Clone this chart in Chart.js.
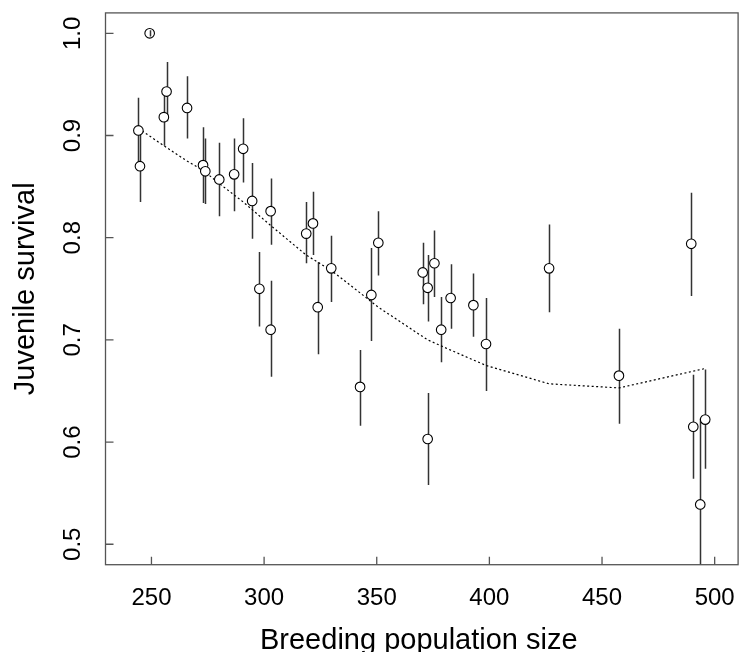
<!DOCTYPE html>
<html>
<head>
<meta charset="utf-8">
<title>Juvenile survival vs breeding population size</title>
<script src="https://cdn.jsdelivr.net/npm/chart.js@4"></script>
<style>
  html, body { margin: 0; padding: 0; background: #fff; overflow: hidden; }
  #wrap { position: absolute; left: 0; top: 0; width: 744px; height: 652px; }
</style>
</head>
<body>
<div id="wrap"><canvas id="chart" width="744" height="652"></canvas></div>
<script>
// breeding population size, survival estimate and interval ends
const popSize = [249.2, 244.2, 244.9, 256.7, 255.5, 265.8, 272.9, 273.9, 280.1, 286.7,
                 290.7, 294.7, 302.9, 318.7, 321.7, 297.9, 302.9, 323.8, 329.8, 350.7,
                 347.6, 342.6, 370.4, 372.6, 375.6, 378.6, 382.8, 372.6, 392.9, 398.5,
                 426.5, 457.5, 489.6, 490.5, 493.6, 495.8];
const survival = [1.000, 0.905, 0.870, 0.943, 0.918, 0.927, 0.871, 0.865, 0.857, 0.862,
                  0.887, 0.836, 0.826, 0.804, 0.814, 0.750, 0.710, 0.732, 0.770, 0.795,
                  0.744, 0.654, 0.766, 0.751, 0.775, 0.710, 0.741, 0.603, 0.734, 0.696,
                  0.770, 0.665, 0.794, 0.615, 0.539, 0.622];
const lower = [0.997, 0.873, 0.835, 0.914, 0.890, 0.897, 0.834, 0.833, 0.821, 0.826,
               0.854, 0.799, 0.793, 0.775, 0.783, 0.713, 0.664, 0.686, 0.737, 0.763,
               0.699, 0.616, 0.735, 0.718, 0.742, 0.678, 0.711, 0.558, 0.703, 0.650,
               0.727, 0.618, 0.743, 0.564, 0.455, 0.574];
const upper = [1.003, 0.937, 0.905, 0.972, 0.946, 0.958, 0.908, 0.897, 0.893, 0.897,
               0.917, 0.873, 0.858, 0.835, 0.845, 0.786, 0.758, 0.776, 0.802, 0.826,
               0.790, 0.690, 0.795, 0.783, 0.807, 0.742, 0.774, 0.648, 0.765, 0.741,
               0.813, 0.711, 0.844, 0.666, 0.623, 0.671];

// smoothed fit (dotted line)
const fitX = [244.2, 255.5, 265.8, 272.9, 280.1, 290.7, 302.9, 318.7, 329.8, 342.6,
              350.7, 372.6, 382.8, 398.5, 426.5, 457.5, 495.8];
const fitY = [0.907, 0.890, 0.875, 0.866, 0.853, 0.835, 0.812, 0.783, 0.768, 0.746,
              0.732, 0.700, 0.690, 0.675, 0.657, 0.653, 0.672];

const xTicks = [250, 300, 350, 400, 450, 500];
const yTicks = [0.5, 0.6, 0.7, 0.8, 0.9, 1.0];

const FONT = '"Liberation Sans", Arial, Helvetica, sans-serif';
const R = 4.8;

function drawBars(c, onlySmall) {
  const { ctx, chartArea: a, scales: { x, y } } = c;
  ctx.save();
  ctx.beginPath();
  ctx.rect(a.left, a.top, a.right - a.left, a.bottom - a.top);
  ctx.clip();
  ctx.strokeStyle = "#333";
  ctx.lineWidth = 1.5;
  popSize.forEach((p, i) => {
    const y0 = y.getPixelForValue(lower[i]);
    const y1 = y.getPixelForValue(upper[i]);
    const small = Math.abs(y0 - y1) < 2 * R;
    if (onlySmall && !small) return;
    const px = Math.round(x.getPixelForValue(p)) + 0.5;
    ctx.beginPath();
    ctx.moveTo(px, y0);
    ctx.lineTo(px, y1);
    ctx.stroke();
  });
  ctx.restore();
}

const rAxes = {
  id: "rAxes",
  beforeDatasetsDraw(c) { drawBars(c, false); },
  afterDatasetsDraw(c) { drawBars(c, true); },
  afterDraw(c) {
    const { ctx, chartArea: a, scales: { x, y } } = c;
    ctx.save();
    ctx.strokeStyle = "#555";
    ctx.lineWidth = 1.3;
    ctx.strokeRect(a.left, a.top, a.right - a.left, a.bottom - a.top);

    // inward ticks
    ctx.beginPath();
    xTicks.forEach(v => {
      const px = x.getPixelForValue(v);
      ctx.moveTo(px, a.bottom);
      ctx.lineTo(px, a.bottom - 8);
    });
    yTicks.forEach(v => {
      const py = y.getPixelForValue(v);
      ctx.moveTo(a.left, py);
      ctx.lineTo(a.left + 8, py);
    });
    ctx.stroke();

    ctx.fillStyle = "#000";
    ctx.font = "24px " + FONT;
    ctx.textAlign = "center";
    ctx.textBaseline = "alphabetic";
    xTicks.forEach(v => ctx.fillText(String(v), x.getPixelForValue(v), 605));
    yTicks.forEach(v => {
      ctx.save();
      ctx.translate(80, y.getPixelForValue(v));
      ctx.rotate(-Math.PI / 2);
      ctx.fillText(v.toFixed(1), 0, 0);
      ctx.restore();
    });

    ctx.font = "29px " + FONT;
    ctx.fillText("Breeding population size", (a.left + a.right) / 2 - 3, 648.5);
    ctx.save();
    ctx.translate(34, (a.top + a.bottom) / 2);
    ctx.rotate(-Math.PI / 2);
    ctx.fillText("Juvenile survival", 0, 0);
    ctx.restore();
    ctx.restore();
  }
};

new Chart(document.getElementById("chart"), {
  type: "scatter",
  data: {
    datasets: [
      {
        type: "line",
        data: fitX.map((v, i) => ({ x: v, y: fitY[i] })),
        borderColor: "#000",
        borderWidth: 1.2,
        borderDash: [2, 2.5],
        pointRadius: 0,
        tension: 0,
        fill: false,
        order: 2
      },
      {
        data: popSize.map((v, i) => ({ x: v, y: survival[i] })),
        pointRadius: R,
        pointBorderWidth: 1.1,
        borderColor: "#000",
        backgroundColor: "#fff",
        order: 1
      }
    ]
  },
  options: {
    responsive: false,
    animation: false,
    layout: { padding: { left: 105.5, top: 12.9, right: 3.3, bottom: 87.3 } },
    plugins: { legend: { display: false }, tooltip: { enabled: false } },
    scales: {
      x: { type: "linear", min: 229.6, max: 510.4, display: false },
      y: { type: "linear", min: 0.48, max: 1.02, display: false }
    }
  },
  plugins: [rAxes]
});
</script>
</body>
</html>
